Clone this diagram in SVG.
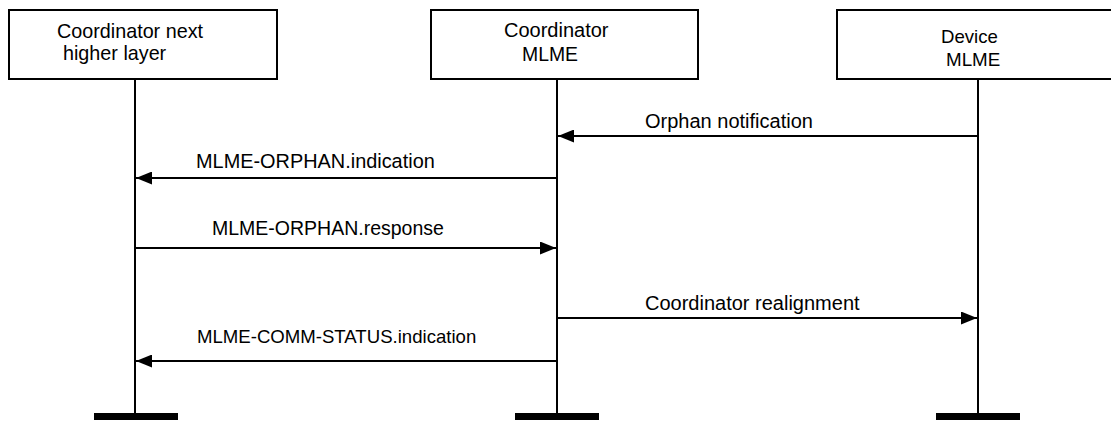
<svg xmlns="http://www.w3.org/2000/svg" width="1111" height="421" viewBox="0 0 1111 421">
<style>
.box{fill:#fff;stroke:#000;stroke-width:2}
.life{stroke:#000;stroke-width:2}
.bar{fill:#000}
.msg{stroke:#000;stroke-width:2;fill:none}
text{font-family:"Liberation Sans",Arial,sans-serif;font-size:20px;fill:#000}
</style>
<defs>
<marker id="ah" viewBox="0 0 16 13" refX="16" refY="6.5" markerWidth="16" markerHeight="13" markerUnits="userSpaceOnUse" orient="auto">
<path d="M0,0 L16,6.5 L0,13 Z" fill="#000"/>
</marker>
</defs>
<g id="node-coord-nhl">
<rect class="box" x="9" y="10" width="268" height="69"/>
<text x="57" y="38" style="font-size:19.75px">Coordinator next</text>
<text x="63" y="60" style="font-size:19.75px">higher layer</text>
<line class="life" x1="135" y1="79" x2="135" y2="414"/>
<rect class="bar" x="94" y="413" width="84" height="7"/>
</g>
<g id="node-coord-mlme">
<rect class="box" x="431" y="10" width="267" height="69"/>
<text x="504" y="37">Coordinator</text>
<text x="522" y="61" style="font-size:19.4px">MLME</text>
<line class="life" x1="557" y1="79" x2="557" y2="414"/>
<rect class="bar" x="515" y="413" width="84" height="7"/>
</g>
<g id="node-device-mlme">
<rect class="box" x="837" y="10" width="280" height="69"/>
<text x="941" y="43" style="font-size:18.6px">Device</text>
<text x="946" y="66" style="font-size:18.8px">MLME</text>
<line class="life" x1="978" y1="79" x2="978" y2="414"/>
<rect class="bar" x="936" y="413" width="84" height="7"/>
</g>
<g id="connectors">
<line class="msg" x1="978" y1="136" x2="558" y2="136" marker-end="url(#ah)"/>
<text x="645" y="128">Orphan notification</text>
<line class="msg" x1="557" y1="178" x2="136" y2="178" marker-end="url(#ah)"/>
<text x="196" y="168" style="font-size:19.9px">MLME-ORPHAN.indication</text>
<line class="msg" x1="135" y1="248" x2="556" y2="248" marker-end="url(#ah)"/>
<text x="212" y="235" style="font-size:19.5px">MLME-ORPHAN.response</text>
<line class="msg" x1="557" y1="318" x2="977" y2="318" marker-end="url(#ah)"/>
<text x="645" y="310">Coordinator realignment</text>
<line class="msg" x1="557" y1="361" x2="136" y2="361" marker-end="url(#ah)"/>
<text x="197" y="343" style="font-size:18.6px">MLME-COMM-STATUS.indication</text>
</g>
</svg>
